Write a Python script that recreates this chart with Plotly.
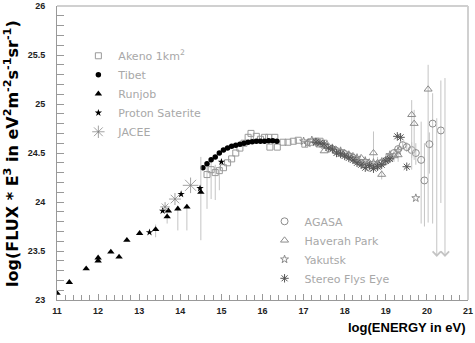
import plotly.graph_objects as go

# ---------------- data ----------------
akeno_x = [14.65, 14.75, 14.85, 14.95, 15.05, 15.15, 15.25, 15.35, 15.45, 15.55, 15.65, 15.72,
           15.85, 15.95, 16.05, 16.15, 16.18, 16.3, 16.36, 16.5, 16.62, 16.75, 16.87, 17.03,
           17.17, 17.3, 17.4, 17.5]
akeno_y = [24.28, 24.33, 24.30, 24.32, 24.35, 24.40, 24.44, 24.50, 24.55, 24.60, 24.66, 24.70,
           24.67, 24.64, 24.66, 24.66, 24.56, 24.66, 24.56, 24.61, 24.61, 24.62, 24.63, 24.59,
           24.61, 24.62, 24.62, 24.60]
akeno_eup = [0.10, 0.10, 0.08, 0.05] + [0] * 24
akeno_edn = [0.35, 0.30, 0.28, 0.20] + [0] * 24

tibet_x = [14.55, 14.65, 14.75, 14.85, 14.95, 15.05, 15.15, 15.25, 15.35, 15.45, 15.55, 15.65,
           15.75, 15.85, 15.95, 16.05, 16.15, 16.25, 16.35]
tibet_y = [24.35, 24.39, 24.43, 24.46, 24.50, 24.53, 24.55, 24.57, 24.58, 24.59, 24.60, 24.61,
           24.615, 24.62, 24.62, 24.62, 24.625, 24.625, 24.62]

runjob_x = [11.0, 11.30, 11.71, 12.0, 12.0, 12.31, 12.51, 12.70, 13.01, 13.40, 13.68, 13.71,
            13.94, 14.16, 14.50]
runjob_y = [23.07, 23.18, 23.32, 23.43, 23.40, 23.49, 23.44, 23.61, 23.68, 23.72, 23.85, 23.91,
            23.93, 23.95, 24.10]
runjob_eup = [0, 0, 0, 0, 0, 0, 0, 0, 0, 0.05, 0.04, 0, 0.03, 0.03, 0.36]
runjob_edn = [0, 0, 0, 0, 0, 0, 0, 0, 0, 0.08, 0.07, 0, 0.22, 0.24, 0.49]

proton_x = [13.25, 13.57, 14.02, 14.48, 15.0]
proton_y = [23.69, 23.91, 24.08, 24.14, 24.41]

jacee_x = [13.63, 13.87, 14.25]
jacee_y = [23.95, 24.03, 24.17]

agasa_x = [17.8, 17.9, 18.0, 18.1, 18.2, 18.3, 18.4, 18.5, 18.6, 18.7, 18.8, 18.9, 19.0,
           19.1, 19.2, 19.3, 19.41, 19.51, 19.63, 19.73, 19.86, 19.94, 20.06, 20.14, 20.34]
agasa_y = [24.52, 24.50, 24.49, 24.47, 24.45, 24.42, 24.40, 24.38, 24.35, 24.38, 24.37, 24.40,
           24.42, 24.45, 24.50, 24.54, 24.58, 24.56, 24.53, 24.50, 24.43, 24.22, 24.59, 24.80,
           24.73]
agasa_eup = [0] * 15 + [0.03, 0.04, 0.05, 0.08, 0.10, 0.39, 0.38, 0.12, 0.31, 0.51]
agasa_edn = [0] * 15 + [0.03, 0.04, 0.05, 0.08, 0.12, 0.65, 0.47, 0.30, 1.02, 0.74]

haverah_x = [17.3, 17.4, 17.5, 17.6, 17.7, 17.8, 17.9, 18.0, 18.1, 18.2, 18.3, 18.4, 18.5,
             18.6, 18.7, 18.8, 18.9, 19.0, 19.1, 19.2, 19.3, 19.63, 19.69, 20.03]
haverah_y = [24.62, 24.58, 24.52, 24.57, 24.55, 24.53, 24.51, 24.50, 24.48, 24.47, 24.43, 24.45,
             24.41, 24.40, 24.50, 24.40, 24.28, 24.43, 24.46, 24.47, 24.48, 24.89, 24.80, 25.15]
haverah_eup = [0] * 12 + [0.04, 0.05, 0.22, 0.06, 0.05, 0.06, 0.05, 0.06, 0.07, 0.15, 0.14, 0.25]
haverah_edn = [0] * 12 + [0.04, 0.05, 0.20, 0.06, 0.05, 0.06, 0.05, 0.06, 0.07, 0.56, 0.37, 1.36]

yakutsk_x = [17.0, 17.1, 17.2, 17.3, 17.5, 17.7, 17.9, 18.1, 18.3, 18.5, 18.7, 18.9, 19.1,
             19.3, 19.73]
yakutsk_y = [24.62, 24.60, 24.63, 24.61, 24.58, 24.55, 24.52, 24.48, 24.45, 24.42, 24.40, 24.41,
             24.48, 24.52, 24.04]

fly_x = [17.3, 17.4, 17.5, 17.6, 17.7, 17.8, 17.9, 18.0, 18.1, 18.2, 18.3, 18.4, 18.5, 18.6,
         18.7, 18.8, 18.9, 19.0, 19.1, 19.28, 19.36, 19.51]
fly_y = [24.61, 24.60, 24.59, 24.55, 24.54, 24.50, 24.49, 24.47, 24.45, 24.43, 24.40, 24.38,
         24.35, 24.37, 24.34, 24.36, 24.38, 24.42, 24.44, 24.67, 24.66, 24.36]

# upper limits (AGASA): energy, top of bar, bottom (arrow tip)
limit_x = [20.24, 20.44]
limit_top = [24.87, 25.28]
limit_bottom = [23.44, 23.44]

x_ticks = [11, 12, 13, 14, 15, 16, 17, 18, 19, 20, 21]
y_ticks = [23, 23.5, 24, 24.5, 25, 25.5, 26]
y_ticklabels = ["23", "23.5", "24", "24.5", "25", "25.5", "26"]

# ---------------- figure ----------------
LG = "#a8a8a8"
ERR = "#c4c4c4"

fig = go.Figure()


def err(up, dn):
    return dict(type="data", symmetric=False, array=up, arrayminus=dn,
                color=ERR, thickness=1, width=0)


fig.add_trace(go.Scatter(x=akeno_x, y=akeno_y, mode="markers", name="Akeno 1km<sup>2</sup>",
                         marker=dict(symbol="square-open", size=6, color="#9a9a9a",
                                     line=dict(width=1)),
                         error_y=err(akeno_eup, akeno_edn), legend="legend"))
fig.add_trace(go.Scatter(x=tibet_x, y=tibet_y, mode="markers", name="Tibet",
                         marker=dict(symbol="circle", size=5.5, color="black"), legend="legend"))
fig.add_trace(go.Scatter(x=runjob_x, y=runjob_y, mode="markers", name="Runjob",
                         marker=dict(symbol="triangle-up", size=6.5, color="black"),
                         error_y=err(runjob_eup, runjob_edn), legend="legend"))
fig.add_trace(go.Scatter(x=proton_x, y=proton_y, mode="markers", name="Proton Saterite",
                         marker=dict(symbol="star", size=5.5, color="black"), legend="legend"))
fig.add_trace(go.Scatter(x=jacee_x, y=jacee_y, mode="markers", name="JACEE",
                         marker=dict(symbol="asterisk-open", size=[8, 10, 13], color="#7a7a7a",
                                     line=dict(width=1, color="#7a7a7a")), legend="legend"))

fig.add_trace(go.Scatter(x=agasa_x, y=agasa_y, mode="markers", name="AGASA",
                         marker=dict(symbol="circle-open", size=7, color="#8c8c8c",
                                     line=dict(width=1)),
                         error_y=err(agasa_eup, agasa_edn), legend="legend2"))
fig.add_trace(go.Scatter(x=haverah_x, y=haverah_y, mode="markers", name="Haverah Park",
                         marker=dict(symbol="triangle-up-open", size=7, color="#8c8c8c",
                                     line=dict(width=1)),
                         error_y=err(haverah_eup, haverah_edn), legend="legend2"))
fig.add_trace(go.Scatter(x=yakutsk_x, y=yakutsk_y, mode="markers", name="Yakutsk",
                         marker=dict(symbol="star-open", size=6, color="#8c8c8c",
                                     line=dict(width=1)), legend="legend2"))
fig.add_trace(go.Scatter(x=fly_x, y=fly_y, mode="markers", name="Stereo Flys Eye",
                         marker=dict(symbol="asterisk-open", size=7, color="#555555",
                                     line=dict(width=1, color="#555555")), legend="legend2"))

for lx, lt, lb in zip(limit_x, limit_top, limit_bottom):
    fig.add_annotation(x=lx, y=lb, ax=lx, ay=lt, xref="x", yref="y", axref="x", ayref="y",
                       text="", showarrow=True, arrowhead=4, arrowsize=1.6, arrowwidth=1,
                       arrowcolor=ERR, standoff=0, startstandoff=0)

# y-axis title
fig.add_annotation(xref="paper", yref="paper", x=-0.112, y=0.50, xanchor="center", yanchor="middle",
                   textangle=-90, showarrow=False,
                   text="<b>log(FLUX * E<sup>3</sup> in eV<sup>2</sup>m<sup>-2</sup>s<sup>-1</sup>sr<sup>-1</sup>)</b>",
                   font=dict(family="DejaVu Sans", size=16, color="black"))
# x-axis title
fig.add_annotation(xref="paper", yref="paper", x=1.0, y=-0.06, xanchor="right", yanchor="top",
                   showarrow=False, text="<b>log(ENERGY in eV)</b>",
                   font=dict(family="Liberation Sans, Arial", size=13, color="black"))

# top/right frame
fig.add_shape(type="line", xref="paper", yref="paper", x0=0, x1=1, y0=1, y1=1,
              line=dict(color="#d0d0d0", width=2))
fig.add_shape(type="line", xref="paper", yref="paper", x0=1, x1=1, y0=0, y1=1,
              line=dict(color="#d0d0d0", width=2))

tickfont = dict(family="Liberation Sans, Arial", size=9, color="#222222", weight="bold")

fig.update_xaxes(range=[11, 21], tickvals=x_ticks, ticks="inside", ticklen=6, tickcolor="#999",
                 showline=True, linecolor="#999", linewidth=1, showgrid=False, zeroline=False,
                 tickfont=tickfont, ticklabelstandoff=2, automargin=False,
                 minor=dict(dtick=0.2, ticks="inside", ticklen=5, tickcolor="#999", showgrid=False))
fig.update_yaxes(range=[23, 26], tickvals=y_ticks, ticktext=y_ticklabels, ticks="inside",
                 ticklen=7, tickcolor="#999", showline=True, linecolor="#999", linewidth=1,
                 showgrid=False, zeroline=False, tickfont=tickfont, ticklabelstandoff=9,
                 automargin=False,
                 minor=dict(dtick=0.1, ticks="inside", ticklen=7, tickcolor="#999", showgrid=False))

legfont = dict(family="DejaVu Sans, sans-serif", size=11, color=LG)
fig.update_layout(
    template="none",
    width=475, height=343,
    margin=dict(l=57, r=7, t=6, b=43),
    paper_bgcolor="white", plot_bgcolor="white",
    showlegend=True,
    legend=dict(x=0.052, y=0.88, xanchor="left", yanchor="top", bgcolor="rgba(0,0,0,0)",
                font=legfont, itemsizing="trace", tracegroupgap=0, itemwidth=30),
    legend2=dict(x=0.505, y=0.317, xanchor="left", yanchor="top", bgcolor="rgba(0,0,0,0)",
                 font=legfont, itemsizing="trace", tracegroupgap=0, itemwidth=30),
)

fig.write_html("out.html", config={"displayModeBar": False},
               post_script="document.body.style.margin='0';")
